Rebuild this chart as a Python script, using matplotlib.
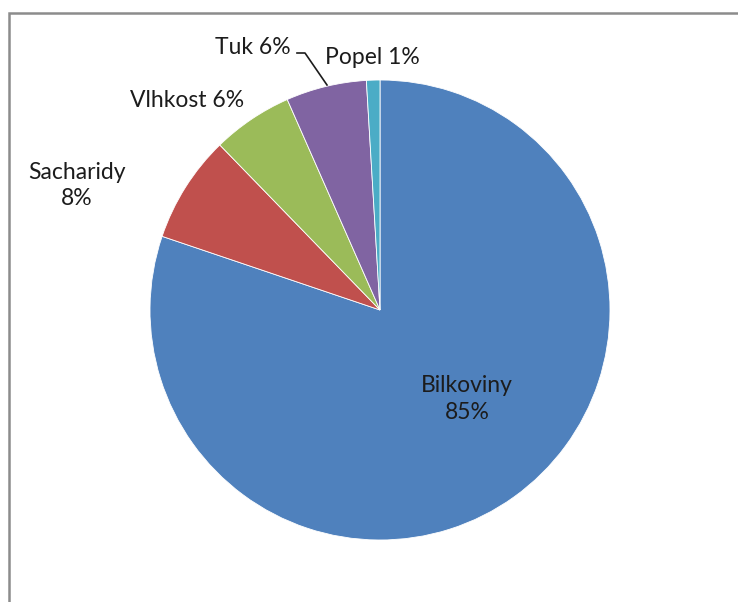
import matplotlib.pyplot as plt
from matplotlib.patches import Rectangle

# Složení vzorku (hodnoty v %)
labels = ['Bilkoviny', 'Sacharidy', 'Vlhkost', 'Tuk', 'Popel']
values = [85, 8, 6, 6, 1]
colors = ['#4F81BD', '#C0504D', '#9BBB59', '#8064A2', '#4BACC6']

plt.rcParams['font.family'] = ['Lato', 'DejaVu Sans']

fig = plt.figure(figsize=(7.38, 6.02), dpi=100)
fig.patches.append(Rectangle((9 / 738, -0.1), 1.2, 1 - 13 / 602 + 0.1,
                             transform=fig.transFigure, fill=False,
                             edgecolor='#8c8c8c', linewidth=1.8))

ax = fig.add_axes([150 / 738, 62 / 602, 460 / 738, 460 / 602])
ax.pie(values, colors=colors, startangle=90, counterclock=False,
       wedgeprops=dict(edgecolor='white', linewidth=0.6))
ax.set_xlim(-1, 1)
ax.set_ylim(-1, 1)
ax.set_aspect('equal')

text_kw = dict(fontsize=16.5, color='#1c1c1c', ha='center', va='center')
ax.text(0.378, -0.387, f'{labels[0]}\n{values[0]}%', linespacing=1.3, **text_kw)
ax.text(-1.317, 0.543, f'{labels[1]}\n{values[1]}%', linespacing=1.3, **text_kw)
ax.text(-0.839, 0.913, f'{labels[2]} {values[2]}%', **text_kw)
ax.text(-0.552, 1.143, f'{labels[3]} {values[3]}%', **text_kw)
ax.text(-0.035, 1.096, f'{labels[4]} {values[4]}%', **text_kw)

# vodicí čára k výseči Tuk
ax.plot([(297 - 380) / 230, (305 - 380) / 230, (327 - 380) / 230],
        [(310 - 53) / 230, (310 - 53) / 230, (310 - 85) / 230],
        color='#1c1c1c', linewidth=1.2, clip_on=False)

fig.savefig('out.png', dpi=100)
